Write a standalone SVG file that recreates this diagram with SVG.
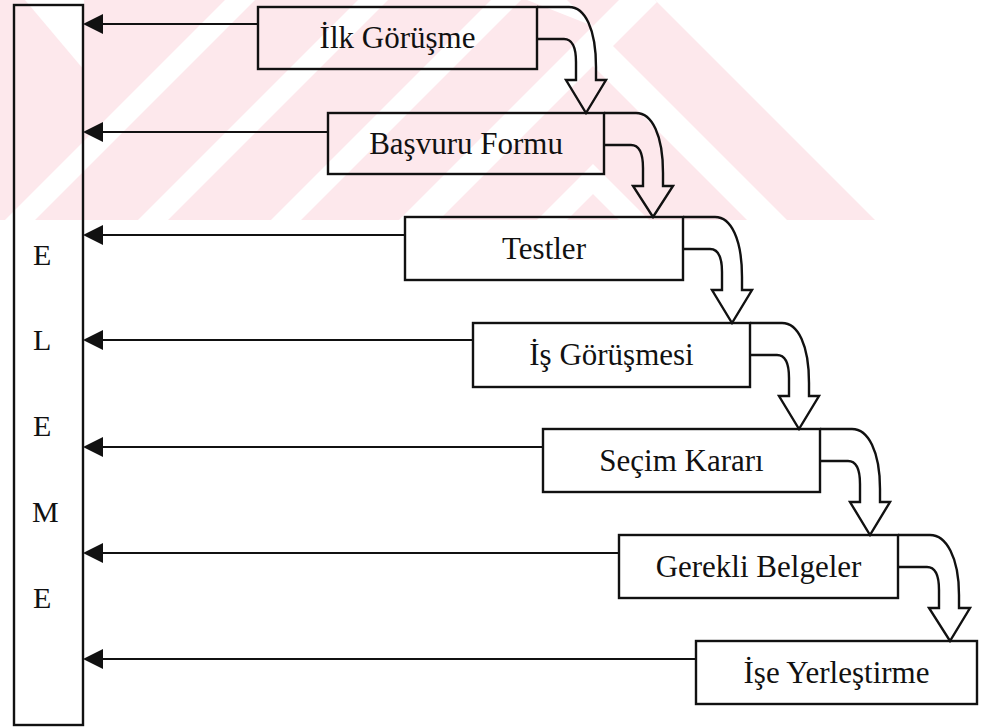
<svg xmlns="http://www.w3.org/2000/svg" width="985" height="727" viewBox="0 0 985 727">
  <style>
    .box { fill: none; stroke: #111; stroke-width: 2.4; }
    .lbl { font-family: "Liberation Serif", "Times New Roman", serif; font-size: 31px; fill: #111; text-anchor: middle; }
    .side { font-family: "Liberation Serif", "Times New Roman", serif; font-size: 30px; fill: #111; }
    .link { fill: none; stroke: #111; stroke-width: 2.2; }
    .flow { fill: none; stroke: #111; stroke-width: 2.4; stroke-linejoin: miter; }
    .wm-pink { fill: #fde8ec; }
    .wm-white { fill: #ffffff; }
  </style>
  <defs>
    <!-- solid triangular head; tip lands on the column edge -->
    <marker id="head" markerWidth="20" markerHeight="20" refX="0" refY="10" orient="auto" markerUnits="userSpaceOnUse" viewBox="0 0 20 20">
      <path d="M0,0 L20,10 L0,20 Z" fill="#111"/>
    </marker>
    <clipPath id="wm-clip">
      <polygon points="0,0 655,0 875,220 0,220"/>
    </clipPath>
  </defs>

  <rect width="985" height="727" fill="#ffffff"/>

  <!-- faint striped background band -->
  <g id="watermark" clip-path="url(#wm-clip)">
    <rect class="wm-pink" x="0" y="0" width="985" height="220"/>
    <polygon class="wm-white" points="25,0 84,0 84,70"/>
    <polygon class="wm-white" points="225,0 255,0 35,220 5,220"/>
    <polygon class="wm-white" points="358,0 388,0 168,220 138,220"/>
    <polygon class="wm-white" points="491,0 521,0 301,220 271,220"/>
    <polygon class="wm-white" points="619,0 659,0 593,66 593,26"/>
    <polygon class="wm-white" points="527,0 567,0 787,220 747,220 593,66 593,26"/>
    <polygon class="wm-white" points="593,26 593,66 439,220 399,220"/>
    <polygon class="wm-white" points="593,164 593,194 619,220 649,220"/>
    <polygon class="wm-white" points="593,164 593,194 567,220 537,220"/>
  </g>

  <!-- elimination column -->
  <g id="eleme">
    <rect class="box" x="14" y="5" width="69" height="720"/>
    <text class="side" x="33" y="265">E</text>
    <text class="side" x="33" y="350">L</text>
    <text class="side" x="33" y="436">E</text>
    <text class="side" x="32" y="522">M</text>
    <text class="side" x="33" y="608">E</text>
  </g>

  <!-- process steps -->
  <g id="ilk-gorusme">
    <rect class="box" x="258" y="7" width="279" height="62"/>
    <text class="lbl" x="397.5" y="48">İlk Görüşme</text>
  </g>
  <g id="basvuru-formu">
    <rect class="box" x="328" y="113" width="276" height="61"/>
    <text class="lbl" x="466" y="154">Başvuru Formu</text>
  </g>
  <g id="testler">
    <rect class="box" x="405" y="217" width="278" height="63"/>
    <text class="lbl" x="544" y="259">Testler</text>
  </g>
  <g id="is-gorusmesi">
    <rect class="box" x="473" y="323" width="277" height="64"/>
    <text class="lbl" x="611.5" y="365">İş Görüşmesi</text>
  </g>
  <g id="secim-karari">
    <rect class="box" x="543" y="429" width="277" height="63"/>
    <text class="lbl" x="681.5" y="471">Seçim Kararı</text>
  </g>
  <g id="gerekli-belgeler">
    <rect class="box" x="619" y="535" width="279" height="63"/>
    <text class="lbl" x="758.5" y="577">Gerekli Belgeler</text>
  </g>
  <g id="ise-yerlestirme">
    <rect class="box" x="696" y="641" width="281" height="63"/>
    <text class="lbl" x="836.5" y="683">İşe Yerleştirme</text>
  </g>

  <g id="connectors">
    <!-- exits to the elimination column -->
    <line class="link" x1="258" y1="24" x2="103" y2="24" marker-end="url(#head)"/>
    <line class="link" x1="328" y1="132" x2="103" y2="132" marker-end="url(#head)"/>
    <line class="link" x1="405" y1="235" x2="103" y2="235" marker-end="url(#head)"/>
    <line class="link" x1="473" y1="340" x2="103" y2="340" marker-end="url(#head)"/>
    <line class="link" x1="543" y1="447" x2="103" y2="447" marker-end="url(#head)"/>
    <line class="link" x1="619" y1="553" x2="103" y2="553" marker-end="url(#head)"/>
    <line class="link" x1="696" y1="659" x2="103" y2="659" marker-end="url(#head)"/>

    <!-- curved block arrows to the next step -->
    <path class="flow" d="M537,7 H569 C585,7 596,29 596,67 V80 H606 L586,113 L566,80 H576 V62 C576,47 572,39 564,39 H537"/>
    <path class="flow" d="M604,113 H636 C652,113 663,135 663,173 V186 H673 L653,217 L633,186 H643 V168 C643,153 639,145 631,145 H604"/>
    <path class="flow" d="M683,217 H715 C731,217 742,239 742,277 V290 H752 L732,323 L712,290 H722 V272 C722,257 718,249 710,249 H683"/>
    <path class="flow" d="M750,323 H782 C798,323 809,345 809,383 V396 H819 L799,429 L779,396 H789 V378 C789,363 785,355 777,355 H750"/>
    <path class="flow" d="M820,429 H852 C868,429 880,451 880,489 V502 H890 L870,535 L850,502 H860 V484 C860,469 856,461 848,461 H820"/>
    <path class="flow" d="M898,535 H930 C946,535 959,557 959,595 V608 H970 L950,641 L929,608 H939 V590 C939,575 935,567 927,567 H898"/>
  </g>
</svg>
